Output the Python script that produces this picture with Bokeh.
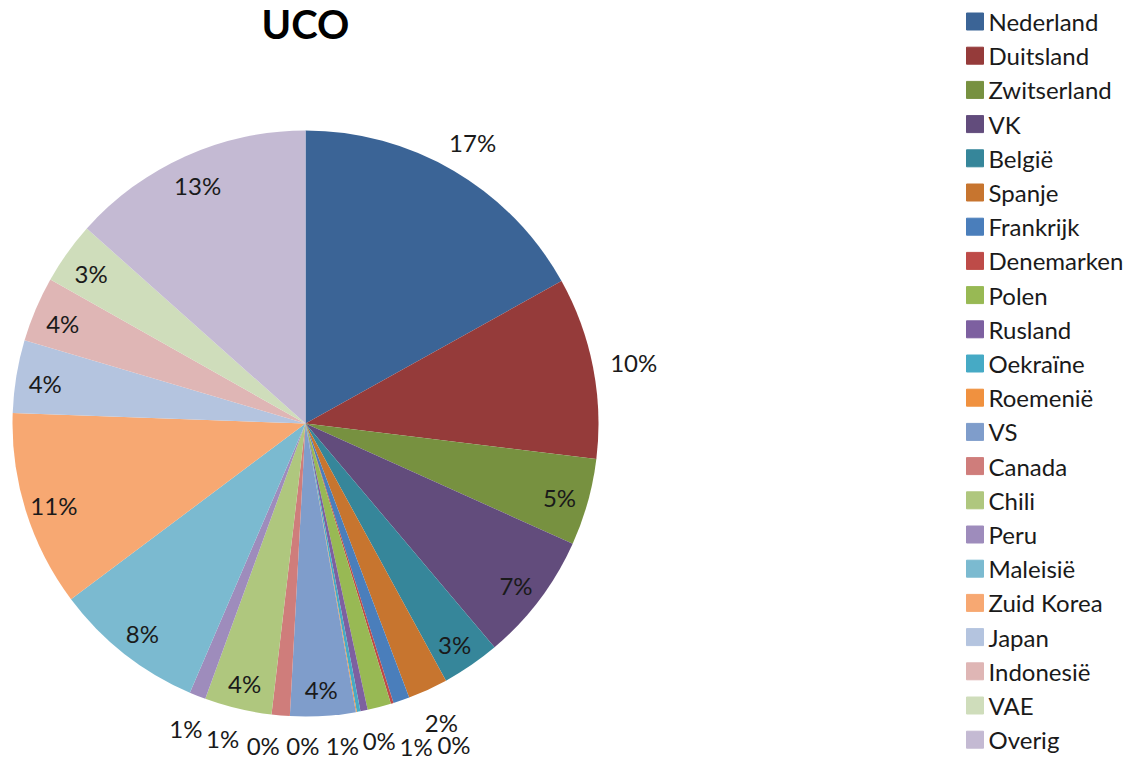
import math
from bokeh.plotting import figure
from bokeh.models import Range1d, ColumnDataSource
from bokeh.core.properties import value
from bokeh.embed import file_html
from bokeh.resources import INLINE

# ---------------- data ----------------
chart_title = "UCO"
countries = ["Nederland", "Duitsland", "Zwitserland", "VK", "België", "Spanje",
             "Frankrijk", "Denemarken", "Polen", "Rusland", "Oekraïne", "Roemenië",
             "VS", "Canada", "Chili", "Peru", "Maleisië", "Zuid Korea", "Japan",
             "Indonesië", "VAE", "Overig"]
shares = [16.9, 10.0, 4.8, 7.1, 3.2, 2.2,
          0.9, 0.15, 1.3, 0.4, 0.2, 0.05,
          3.6, 1.0, 3.7, 0.9, 8.3, 10.8, 4.0,
          3.6, 3.4, 13.4]
colors = ["#3B6496", "#953B3A", "#779140", "#624C7C", "#36869A", "#C7752F",
          "#4A7EBB", "#BE4B48", "#98B954", "#7D60A0", "#46AAC5", "#F0913F",
          "#7F9DCB", "#CF7D7B", "#AFC77E", "#9E8CBC", "#7BBAD0", "#F7A872",
          "#B4C4DF", "#DFB6B5", "#CFDDBB", "#C4BAD3"]
# labels that Excel placed outside the pie although the slice is large
forced_outside = ["Nederland", "Duitsland"]

# ---------------- layout ----------------
W, H = 1128, 762
cx, cy, R = 305.0, 339.0, 293.0
label_fs = 24
font = "Lato"
y_shift = 3  # screen px, text baseline correction

total = sum(shares)
pcts = [100.0 * s / total for s in shares]
labels = [f"{int(round(p))}%" for p in pcts]

starts, ends, mids = [], [], []
cum = 0.0
for s in shares:
    t0 = 2 * math.pi * cum / total
    cum += s
    t1 = 2 * math.pi * cum / total
    starts.append(math.pi / 2 - t0)
    ends.append(math.pi / 2 - t1)
    mids.append((t0 + t1) / 2)

def text_w(s):
    return label_fs * (0.56 * (len(s) - 1) + 0.80)

text_h = label_fs * 0.78

def overlaps(b, boxes, pad=4):
    for o in boxes:
        if b[0] < o[1] + pad and b[1] > o[0] - pad and b[2] < o[3] + pad and b[3] > o[2] - pad:
            return True
    return False

lx, ly = [], []
placed = []
gap = 17
for i, (c, lab, th) in enumerate(zip(countries, labels, mids)):
    w = text_w(lab)
    outside = (c in forced_outside) or pcts[i] < 2.5
    if not outside:
        r = 0.9 * R
        x = cx + r * math.sin(th)
        y = cy + r * math.cos(th)
        lx.append(x); ly.append(y)
        placed.append((x - w / 2, x + w / 2, y - text_h / 2 - y_shift, y + text_h / 2 - y_shift))
        continue
    cands = []
    for extra in range(0, 90, 2):
        for d in range(0, 40):
            for sgn in ((1,) if d == 0 else (1, -1)):
                t = th + sgn * math.radians(d)
                r = R + gap + extra + (w / 2) * abs(math.sin(t)) + (text_h / 2) * abs(math.cos(t))
                cost = 0.8 * extra + r * math.radians(d)
                cands.append((cost, t, r))
    cands.sort(key=lambda a: a[0])
    for cost, t, r in cands:
        x = cx + r * math.sin(t)
        y = cy + r * math.cos(t)
        b = (x - w / 2, x + w / 2, y - text_h / 2 - y_shift, y + text_h / 2 - y_shift)
        if b[0] < 0 or b[1] > 940 or b[2] < 3 or b[3] > H:
            continue
        if overlaps(b, placed):
            continue
        lx.append(x); ly.append(y)
        placed.append(b)
        break

src = ColumnDataSource(dict(country=countries, start=starts, end=ends, color=colors,
                            lx=lx, ly=ly, label=labels))

p = figure(width=W, height=H, x_range=Range1d(0, W), y_range=Range1d(0, H),
           output_backend="svg", toolbar_location=None, min_border=0,
           x_axis_type=None, y_axis_type=None)
p.outline_line_color = None
p.background_fill_color = "white"
p.border_fill_color = "white"

p.wedge(x=cx, y=cy, radius=R, start_angle="start", end_angle="end", direction="clock",
        fill_color="color", line_color=None, source=src)

p.text(x="lx", y="ly", text="label", source=src, text_align="center", text_baseline="middle",
       y_offset=y_shift, text_font=value(font), text_font_size=f"{label_fs}px",
       text_color="#1a1a1a")

# title
p.text(x=[cx], y=[H - 23], text=[chart_title], text_align="center", text_baseline="middle",
       text_font=value(font), text_font_size="40px", text_font_style="bold", text_color="black")

# legend
row0 = H - 21
step = 34.2
leg_y = [row0 - step * i for i in range(len(countries))]
leg_src = ColumnDataSource(dict(y=leg_y, country=countries, color=colors))
p.rect(x=974.5, y="y", width=17, height=17, fill_color="color", line_color="color", source=leg_src)
p.text(x=988, y="y", text="country", source=leg_src, text_align="left", text_baseline="middle",
       text_font=value(font), text_font_size="24px", text_color="#1a1a1a")

open("out.html", "w").write(file_html(p, INLINE))
